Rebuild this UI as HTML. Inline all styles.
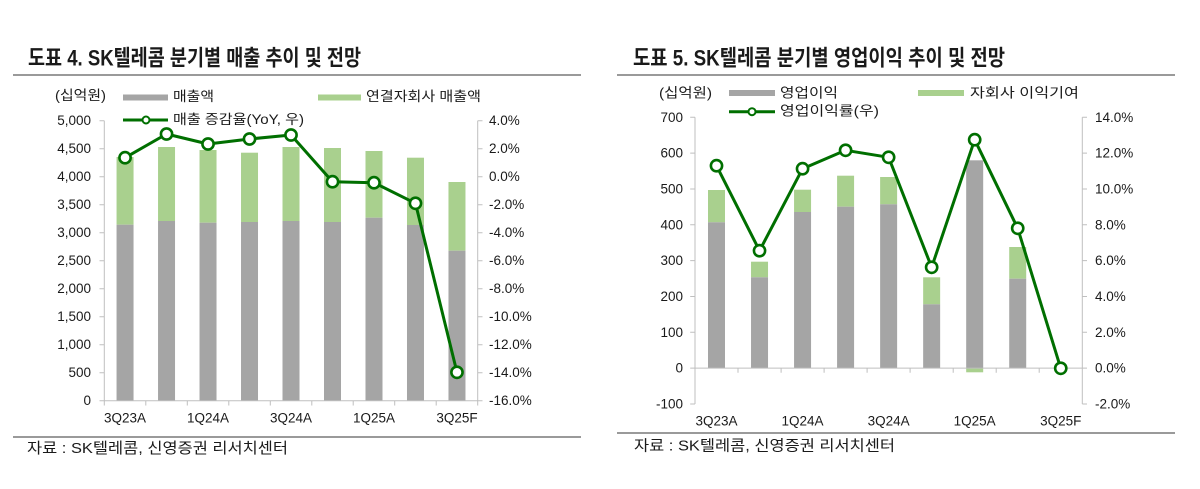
<!DOCTYPE html>
<html><head><meta charset="utf-8">
<style>
html,body{margin:0;padding:0;background:#fff;}
svg{display:block;}
.t{font-family:"Liberation Sans","Noto Sans CJK KR",sans-serif;fill:#1a1a1a;}
.k{font-family:"Liberation Sans","Noto Sans CJK KR",sans-serif;fill:#1a1a1a;}
</style></head>
<body>
<svg width="1200" height="489" viewBox="0 0 1200 489" xmlns="http://www.w3.org/2000/svg">
<rect width="1200" height="489" fill="#fff"/>

<!-- ================= LEFT CHART ================= -->
<text class="k" x="28" y="58" font-size="22" font-weight="600" dominant-baseline="central" textLength="333" lengthAdjust="spacingAndGlyphs">도표 4. SK텔레콤 분기별 매출 추이 및 전망</text>
<line x1="13" y1="75" x2="581" y2="75" stroke="#9a9a9a" stroke-width="2"/>

<!-- legend -->
<text class="k" x="55" y="95.5" font-size="13.5" dominant-baseline="central" textLength="51" lengthAdjust="spacingAndGlyphs">(십억원)</text>
<rect x="123" y="94.5" width="45" height="6" fill="#a5a5a5"/>
<text class="k" x="173" y="96.5" font-size="13.5" dominant-baseline="central" textLength="41" lengthAdjust="spacingAndGlyphs">매출액</text>
<rect x="318" y="94.5" width="43" height="6" fill="#a9d08e"/>
<text class="k" x="366" y="96.5" font-size="13.5" dominant-baseline="central" textLength="115" lengthAdjust="spacingAndGlyphs">연결자회사 매출액</text>
<line x1="123" y1="120" x2="168" y2="120" stroke="#006f00" stroke-width="3"/>
<circle cx="146" cy="120" r="3.5" fill="#fff" stroke="#006f00" stroke-width="2"/>
<text class="k" x="173" y="119.5" font-size="13.5" dominant-baseline="central" textLength="131" lengthAdjust="spacingAndGlyphs">매출 증감율(YoY, 우)</text>

<!-- bars -->
<g>
<rect x="116.55" y="157" width="17" height="67.7" fill="#a9d08e"/><rect x="116.55" y="224.7" width="17" height="176" fill="#a5a5a5"/>
<rect x="158.04" y="147" width="17" height="74" fill="#a9d08e"/><rect x="158.04" y="221" width="17" height="179.7" fill="#a5a5a5"/>
<rect x="199.53" y="150" width="17" height="72.7" fill="#a9d08e"/><rect x="199.53" y="222.7" width="17" height="178" fill="#a5a5a5"/>
<rect x="241.02" y="152.7" width="17" height="69.3" fill="#a9d08e"/><rect x="241.02" y="222" width="17" height="178.7" fill="#a5a5a5"/>
<rect x="282.51" y="147" width="17" height="74" fill="#a9d08e"/><rect x="282.51" y="221" width="17" height="179.7" fill="#a5a5a5"/>
<rect x="324" y="148" width="17" height="74" fill="#a9d08e"/><rect x="324" y="222" width="17" height="178.7" fill="#a5a5a5"/>
<rect x="365.49" y="151" width="17" height="66.7" fill="#a9d08e"/><rect x="365.49" y="217.7" width="17" height="183" fill="#a5a5a5"/>
<rect x="406.98" y="157.7" width="17" height="67.3" fill="#a9d08e"/><rect x="406.98" y="225" width="17" height="175.7" fill="#a5a5a5"/>
<rect x="448.47" y="182" width="17" height="68.7" fill="#a9d08e"/><rect x="448.47" y="250.7" width="17" height="150" fill="#a5a5a5"/>
</g>

<!-- axes -->
<g stroke="#bfbfbf" stroke-width="1" fill="none">
<line x1="104.3" y1="120.7" x2="104.3" y2="400.7"/>
<line x1="477.7" y1="120.7" x2="477.7" y2="400.7"/>
<line x1="99.5" y1="400.7" x2="482.5" y2="400.7"/>
<path d="M99.5 120.7H104.3M99.5 148.7H104.3M99.5 176.7H104.3M99.5 204.7H104.3M99.5 232.7H104.3M99.5 260.7H104.3M99.5 288.7H104.3M99.5 316.7H104.3M99.5 344.7H104.3M99.5 372.7H104.3"/>
<path d="M477.7 120.7H482.5M477.7 148.7H482.5M477.7 176.7H482.5M477.7 204.7H482.5M477.7 232.7H482.5M477.7 260.7H482.5M477.7 288.7H482.5M477.7 316.7H482.5M477.7 344.7H482.5M477.7 372.7H482.5"/>
<path d="M104.3 400.7V405.5M145.8 400.7V405.5M187.3 400.7V405.5M228.8 400.7V405.5M270.3 400.7V405.5M311.8 400.7V405.5M353.2 400.7V405.5M394.7 400.7V405.5M436.2 400.7V405.5M477.7 400.7V405.5"/>
</g>

<!-- left tick labels -->
<g class="t" font-size="13.5" text-anchor="end" dominant-baseline="central">
<text x="91" y="120.7">5,000</text><text x="91" y="148.7">4,500</text><text x="91" y="176.7">4,000</text>
<text x="91" y="204.7">3,500</text><text x="91" y="232.7">3,000</text><text x="91" y="260.7">2,500</text>
<text x="91" y="288.7">2,000</text><text x="91" y="316.7">1,500</text><text x="91" y="344.7">1,000</text>
<text x="91" y="372.7">500</text><text x="91" y="400.7">0</text>
</g>
<g class="t" font-size="13.5" text-anchor="start" dominant-baseline="central">
<text x="489" y="120.7">4.0%</text><text x="489" y="148.7">2.0%</text><text x="489" y="176.7">0.0%</text>
<text x="489" y="204.7">-2.0%</text><text x="489" y="232.7">-4.0%</text><text x="489" y="260.7">-6.0%</text>
<text x="489" y="288.7">-8.0%</text><text x="489" y="316.7">-10.0%</text><text x="489" y="344.7">-12.0%</text>
<text x="489" y="372.7">-14.0%</text><text x="489" y="400.7">-16.0%</text>
</g>
<g class="t" font-size="13.5" text-anchor="middle" dominant-baseline="central">
<text x="125.05" y="418">3Q23A</text><text x="208.03" y="418">1Q24A</text><text x="291.01" y="418">3Q24A</text>
<text x="373.99" y="418">1Q25A</text><text x="456.97" y="418">3Q25F</text>
</g>

<!-- line series -->
<polyline points="125.05,157.7 166.54,134 208.03,144 249.52,139 291.01,135 332.5,181.7 373.99,182.7 415.48,203.3 456.97,372.3" fill="none" stroke="#006f00" stroke-width="3" stroke-linejoin="round"/>
<g fill="#fff" stroke="#006f00" stroke-width="2.6">
<circle cx="125.05" cy="157.7" r="5.6"/><circle cx="166.54" cy="134" r="5.6"/><circle cx="208.03" cy="144" r="5.6"/>
<circle cx="249.52" cy="139" r="5.6"/><circle cx="291.01" cy="135" r="5.6"/><circle cx="332.5" cy="181.7" r="5.6"/>
<circle cx="373.99" cy="182.7" r="5.6"/><circle cx="415.48" cy="203.3" r="5.6"/><circle cx="456.97" cy="372.3" r="5.6"/>
</g>

<line x1="13" y1="437" x2="581" y2="437" stroke="#9a9a9a" stroke-width="2"/>
<text class="k" x="27" y="448.5" font-size="15" dominant-baseline="central" textLength="261" lengthAdjust="spacingAndGlyphs">자료 : SK텔레콤, 신영증권 리서치센터</text>

<!-- ================= RIGHT CHART ================= -->
<text class="k" x="633" y="58" font-size="22" font-weight="600" dominant-baseline="central" textLength="372" lengthAdjust="spacingAndGlyphs">도표 5. SK텔레콤 분기별 영업이익 추이 및 전망</text>
<line x1="617" y1="75" x2="1175" y2="75" stroke="#9a9a9a" stroke-width="2"/>

<!-- legend -->
<text class="k" x="659" y="93" font-size="13.5" dominant-baseline="central" textLength="53" lengthAdjust="spacingAndGlyphs">(십억원)</text>
<rect x="729" y="90" width="46" height="6" fill="#a5a5a5"/>
<text class="k" x="780" y="93" font-size="13.5" dominant-baseline="central" textLength="58" lengthAdjust="spacingAndGlyphs">영업이익</text>
<rect x="918" y="90" width="46" height="6" fill="#a9d08e"/>
<text class="k" x="970" y="93" font-size="13.5" dominant-baseline="central" textLength="109" lengthAdjust="spacingAndGlyphs">자회사 이익기여</text>
<line x1="729" y1="111.7" x2="775" y2="111.7" stroke="#006f00" stroke-width="3"/>
<circle cx="752" cy="111.7" r="3.5" fill="#fff" stroke="#006f00" stroke-width="2"/>
<text class="k" x="780" y="111.2" font-size="13.5" dominant-baseline="central" textLength="99" lengthAdjust="spacingAndGlyphs">영업이익률(우)</text>

<!-- bars -->
<g>
<rect x="708" y="190" width="17" height="32.3" fill="#a9d08e"/><rect x="708" y="222.3" width="17" height="145.8" fill="#a5a5a5"/>
<rect x="751.03" y="261.7" width="17" height="15.6" fill="#a9d08e"/><rect x="751.03" y="277.3" width="17" height="90.8" fill="#a5a5a5"/>
<rect x="794.06" y="189.7" width="17" height="22.3" fill="#a9d08e"/><rect x="794.06" y="212" width="17" height="156.1" fill="#a5a5a5"/>
<rect x="837.09" y="175.7" width="17" height="31" fill="#a9d08e"/><rect x="837.09" y="206.7" width="17" height="161.4" fill="#a5a5a5"/>
<rect x="880.12" y="177" width="17" height="27.3" fill="#a9d08e"/><rect x="880.12" y="204.3" width="17" height="163.8" fill="#a5a5a5"/>
<rect x="923.15" y="277.3" width="17" height="27" fill="#a9d08e"/><rect x="923.15" y="304.3" width="17" height="63.8" fill="#a5a5a5"/>
<rect x="966.18" y="160.3" width="17" height="207.8" fill="#a5a5a5"/><rect x="966.18" y="368.1" width="17" height="4.2" fill="#a9d08e"/>
<rect x="1009.21" y="247" width="17" height="31.7" fill="#a9d08e"/><rect x="1009.21" y="278.7" width="17" height="89.4" fill="#a5a5a5"/>
</g>

<!-- axes -->
<g stroke="#bfbfbf" stroke-width="1" fill="none">
<line x1="695" y1="117.3" x2="695" y2="404"/>
<line x1="1082.3" y1="117.3" x2="1082.3" y2="404"/>
<line x1="695" y1="368.1" x2="1082.3" y2="368.1"/>
<path d="M690.2 117.3H695M690.2 153.1H695M690.2 189H695M690.2 224.8H695M690.2 260.6H695M690.2 296.5H695M690.2 332.3H695M690.2 368.1H695M690.2 404H695"/>
<path d="M1082.3 117.3H1087M1082.3 153.1H1087M1082.3 189H1087M1082.3 224.8H1087M1082.3 260.6H1087M1082.3 296.5H1087M1082.3 332.3H1087M1082.3 368.1H1087M1082.3 404H1087"/>
<path d="M738 368.1V372.8M781.1 368.1V372.8M824.1 368.1V372.8M867.1 368.1V372.8M910.1 368.1V372.8M953.2 368.1V372.8M996.2 368.1V372.8M1039.2 368.1V372.8"/>
</g>

<g class="t" font-size="13.5" text-anchor="end" dominant-baseline="central">
<text x="683" y="117.3">700</text><text x="683" y="153.1">600</text><text x="683" y="189">500</text>
<text x="683" y="224.8">400</text><text x="683" y="260.6">300</text><text x="683" y="296.5">200</text>
<text x="683" y="332.3">100</text><text x="683" y="368.1">0</text><text x="683" y="404">-100</text>
</g>
<g class="t" font-size="13.5" text-anchor="start" dominant-baseline="central">
<text x="1095" y="117.3">14.0%</text><text x="1095" y="153.1">12.0%</text><text x="1095" y="189">10.0%</text>
<text x="1095" y="224.8">8.0%</text><text x="1095" y="260.6">6.0%</text><text x="1095" y="296.5">4.0%</text>
<text x="1095" y="332.3">2.0%</text><text x="1095" y="368.1">0.0%</text><text x="1095" y="404">-2.0%</text>
</g>
<g class="t" font-size="13.5" text-anchor="middle" dominant-baseline="central">
<text x="716.5" y="421">3Q23A</text><text x="802.56" y="421">1Q24A</text><text x="888.62" y="421">3Q24A</text>
<text x="974.68" y="421">1Q25A</text><text x="1060.74" y="421">3Q25F</text>
</g>

<polyline points="716.5,165.7 759.53,250.7 802.56,168.7 845.59,150.3 888.62,157.3 931.65,267.3 974.68,139.7 1017.71,228.3 1060.74,368.3" fill="none" stroke="#006f00" stroke-width="3" stroke-linejoin="round"/>
<g fill="#fff" stroke="#006f00" stroke-width="2.6">
<circle cx="716.5" cy="165.7" r="5.6"/><circle cx="759.53" cy="250.7" r="5.6"/><circle cx="802.56" cy="168.7" r="5.6"/>
<circle cx="845.59" cy="150.3" r="5.6"/><circle cx="888.62" cy="157.3" r="5.6"/><circle cx="931.65" cy="267.3" r="5.6"/>
<circle cx="974.68" cy="139.7" r="5.6"/><circle cx="1017.71" cy="228.3" r="5.6"/><circle cx="1060.74" cy="368.3" r="5.6"/>
</g>

<line x1="617" y1="433" x2="1175" y2="433" stroke="#9a9a9a" stroke-width="2"/>
<text class="k" x="634" y="446" font-size="15" dominant-baseline="central" textLength="261" lengthAdjust="spacingAndGlyphs">자료 : SK텔레콤, 신영증권 리서치센터</text>

</svg>
</body></html>
